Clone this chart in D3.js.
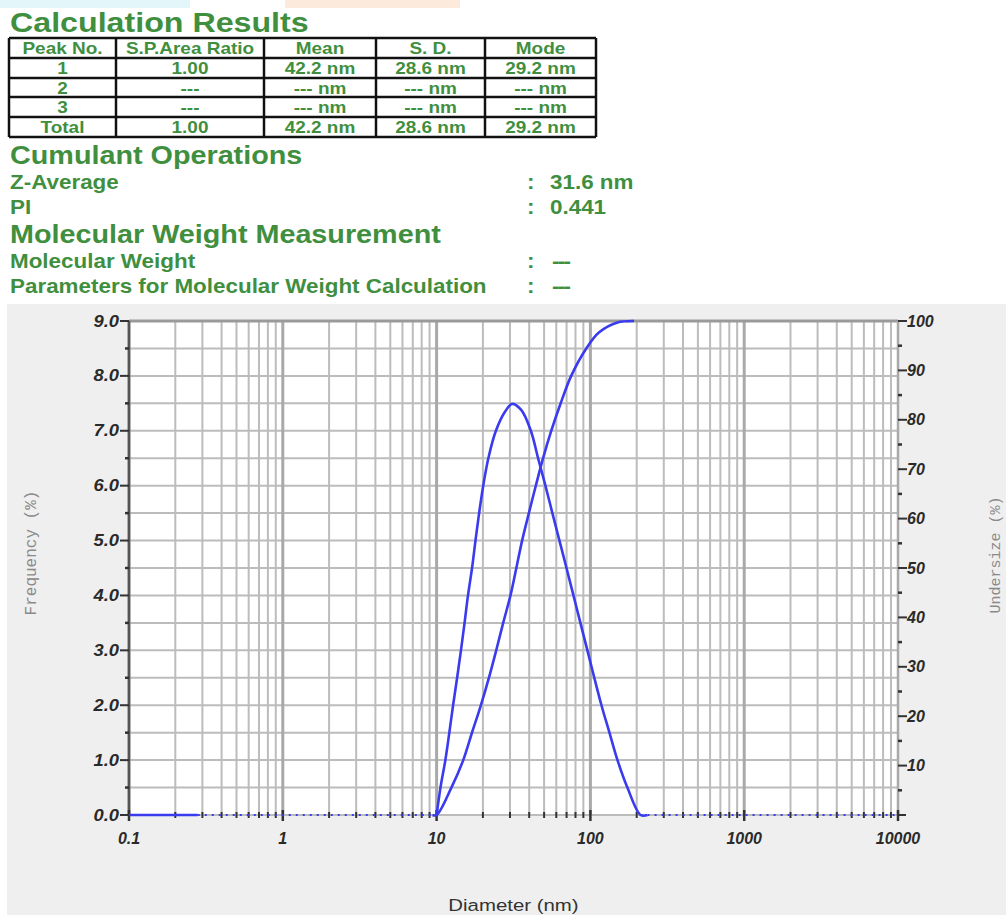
<!DOCTYPE html>
<html>
<head>
<meta charset="utf-8">
<script src="https://cdn.jsdelivr.net/npm/d3@7"></script>
<style>
  html, body { margin: 0; padding: 0; background: #ffffff; }
  svg { display: block; }
</style>
</head>
<body>
<svg id="chart" width="1006" height="915"></svg>
<script>
// ---- Report values ----
const tableHeader = ["Peak No.", "S.P.Area Ratio", "Mean", "S. D.", "Mode"];
const peakNo     = ["1", "2", "3", "Total"];
const areaRatio  = ["1.00", "---", "---", "1.00"];
const meanNm     = ["42.2 nm", "--- nm", "--- nm", "42.2 nm"];
const sdNm       = ["28.6 nm", "--- nm", "--- nm", "28.6 nm"];
const modeNm     = ["29.2 nm", "--- nm", "--- nm", "29.2 nm"];

const cumulantLabels = ["Z-Average", "PI"];
const cumulantValues = ["31.6 nm", "0.441"];
const mwLabels = ["Molecular Weight", "Parameters for Molecular Weight Calculation"];
const mwValues = ["---", "---"];

// ---- Size distribution (diameter in nm) ----
const freqDiameter = [10, 10.6, 11.4, 12.1, 12.8, 13.6, 14.4, 15.2, 16.0, 17.0, 17.9, 18.9, 20.1, 21.7, 24.3, 27.9, 31.0, 35.5, 41.0, 45.7, 51.0, 56.6, 62.9, 69.9, 77.6, 86.1, 95.6, 106, 118, 133, 150, 174, 212, 235];
const freqValue    = [0, 0.5, 1.0, 1.5, 2.0, 2.5, 3.0, 3.5, 4.0, 4.5, 5.0, 5.5, 6.0, 6.5, 7.0, 7.35, 7.49, 7.38, 7.0, 6.5, 6.0, 5.5, 5.0, 4.5, 4.0, 3.5, 3.0, 2.5, 2.0, 1.5, 1.0, 0.5, 0, 0];

const cumDiameter = [9.4, 10, 12.5, 14.9, 17.0, 19.4, 21.9, 24.4, 27.1, 30.2, 33.0, 36.0, 39.8, 44.2, 49.2, 55.7, 64.0, 75.0, 93.8, 114, 150, 192];
const cumValue    = [0, 0, 5.6, 11.1, 16.7, 22.2, 27.8, 33.3, 38.9, 44.4, 50.0, 55.6, 61.1, 66.7, 72.2, 77.8, 83.3, 88.9, 94.4, 97.7, 99.7, 100];

// zero baseline: solid part, then dotted stretches outside the distribution
const baselineSolid  = [0.1, 0.28];
const baselineDotted = [[0.28, 10], [212, 10000]];

const xTickValues = [0.1, 1, 10, 100, 1000, 10000];
const xTickLabels = ["0.1", "1", "10", "100", "1000", "10000"];
const leftTickValues = [0, 1, 2, 3, 4, 5, 6, 7, 8, 9];
const rightTickValues = [10, 20, 30, 40, 50, 60, 70, 80, 90, 100];

// ---- Drawing ----
const svg = d3.select("#chart");
const GREEN = "#3f8f3f";
const BLUE = "#3a3aee";
const SX = 1.15;           // report font is slightly wide

function txt(parent, px, py, s, o = {}) {
  return parent.append("text")
    .attr("transform", `translate(${px},${py}) scale(${o.sx || 1},1)`)
    .attr("font-family", o.family || "Liberation Sans, Arial, sans-serif")
    .attr("font-size", o.size || 16)
    .attr("font-weight", o.weight || "normal")
    .attr("font-style", o.style || "normal")
    .attr("text-anchor", o.anchor || "start")
    .attr("fill", o.fill || "#000")
    .text(s);
}

// faint colour bands along the very top edge
svg.append("rect").attr("x", 0).attr("y", 0).attr("width", 190).attr("height", 8).attr("fill", "#e3f7fb");
svg.append("rect").attr("x", 285).attr("y", 0).attr("width", 175).attr("height", 8).attr("fill", "#fcebdc");

// Title
txt(svg, 10, 32, "Calculation Results", { size: 28, weight: "bold", fill: GREEN, sx: SX });

// Results table
const colEdges = [9, 116, 264, 376, 485, 596];
const rowEdges = [38, 58, 78, 97, 117, 137];
const table = svg.append("g");
const rows = [tableHeader].concat(peakNo.map((p, i) => [p, areaRatio[i], meanNm[i], sdNm[i], modeNm[i]]));
rows.forEach((r, ri) => {
  const mid = (rowEdges[ri] + rowEdges[ri + 1]) / 2;
  r.forEach((c, ci) => {
    const cx = (colEdges[ci] + colEdges[ci + 1]) / 2;
    txt(table, cx, mid + 6, c, { size: 16.5, weight: "bold", fill: GREEN, anchor: "middle", sx: SX });
  });
});
rowEdges.forEach(yy => table.append("line")
  .attr("x1", colEdges[0]).attr("x2", colEdges[colEdges.length - 1])
  .attr("y1", yy).attr("y2", yy).attr("stroke", "#111").attr("stroke-width", 2.5));
colEdges.forEach(xx => table.append("line")
  .attr("x1", xx).attr("x2", xx)
  .attr("y1", rowEdges[0]).attr("y2", rowEdges[rowEdges.length - 1]).attr("stroke", "#111").attr("stroke-width", 2.5));

// Cumulant operations
txt(svg, 10, 164, "Cumulant Operations", { size: 25, weight: "bold", fill: GREEN, sx: SX });
cumulantLabels.forEach((l, i) => {
  const yy = 189 + i * 25;
  txt(svg, 10, yy, l, { size: 19.5, weight: "bold", fill: GREEN, sx: SX });
  txt(svg, 527, yy, ":", { size: 19.5, weight: "bold", fill: GREEN, sx: SX });
  txt(svg, 550, yy, cumulantValues[i], { size: 19.5, weight: "bold", fill: GREEN, sx: SX });
});

// Molecular weight
txt(svg, 10, 243, "Molecular Weight Measurement", { size: 25, weight: "bold", fill: GREEN, sx: SX });
mwLabels.forEach((l, i) => {
  const yy = 268 + i * 25;
  txt(svg, 10, yy, l, { size: 19.5, weight: "bold", fill: GREEN, sx: SX });
  txt(svg, 527, yy, ":", { size: 19.5, weight: "bold", fill: GREEN, sx: SX });
  txt(svg, 552, yy, mwValues[i], { size: 19.5, weight: "bold", fill: GREEN, sx: SX }).attr("letter-spacing", -1.5);
});

// ---- Graph panel ----
svg.append("rect").attr("x", 7).attr("y", 304).attr("width", 999).attr("height", 611).attr("fill", "#efefef");

const pLeft = 129, pRight = 898, pTop = 321, pBottom = 815;
const x = d3.scaleLog().domain([0.1, 10000]).range([pLeft, pRight]);
const yL = d3.scaleLinear().domain([0, 9]).range([pBottom, pTop]);
const yR = d3.scaleLinear().domain([0, 100]).range([pBottom, pTop]);

svg.append("rect").attr("x", pLeft).attr("y", pTop).attr("width", pRight - pLeft).attr("height", pBottom - pTop).attr("fill", "#fff");

const grid = svg.append("g");
// horizontal grid every 0.5 %
d3.range(0, 9.01, 0.5).forEach(v => grid.append("line")
  .attr("x1", pLeft).attr("x2", pRight).attr("y1", yL(v)).attr("y2", yL(v))
  .attr("stroke", "#bcbcbc").attr("stroke-width", 2));
// vertical log grid
const decades = [0.1, 1, 10, 100, 1000];
decades.forEach(dec => {
  d3.range(1, 10).forEach(k => {
    const v = dec * k;
    const major = k === 1;
    grid.append("line")
      .attr("x1", x(v)).attr("x2", x(v)).attr("y1", pTop).attr("y2", pBottom)
      .attr("stroke", major ? "#a9a9a9" : "#bcbcbc").attr("stroke-width", major ? 3 : 2);
  });
});
// frame
grid.append("line").attr("x1", pLeft).attr("x2", pRight).attr("y1", pTop).attr("y2", pTop).attr("stroke", "#9a9a9a").attr("stroke-width", 3);
grid.append("line").attr("x1", pRight).attr("x2", pRight).attr("y1", pTop).attr("y2", pBottom).attr("stroke", "#a9a9a9").attr("stroke-width", 2.5);
grid.append("line").attr("x1", pLeft).attr("x2", pLeft).attr("y1", pTop).attr("y2", pBottom).attr("stroke", "#555").attr("stroke-width", 2.5);

// left axis ticks + labels
const axL = svg.append("g");
leftTickValues.forEach(v => {
  axL.append("line").attr("x1", pLeft - 9).attr("x2", pLeft).attr("y1", yL(v)).attr("y2", yL(v)).attr("stroke", "#333").attr("stroke-width", 2);
  txt(axL, pLeft - 10, yL(v) + 5.5, v.toFixed(1), { size: 16, weight: "bold", style: "italic", fill: "#2a2a2a", anchor: "end", sx: 1.15 });
});
d3.range(0.5, 9, 1).forEach(v => axL.append("line")
  .attr("x1", pLeft - 4).attr("x2", pLeft).attr("y1", yL(v)).attr("y2", yL(v)).attr("stroke", "#333").attr("stroke-width", 2.5));

// right axis ticks + labels
const axR = svg.append("g");
rightTickValues.forEach(v => {
  axR.append("line").attr("x1", pRight).attr("x2", pRight + 9).attr("y1", yR(v)).attr("y2", yR(v)).attr("stroke", "#333").attr("stroke-width", 2);
  txt(axR, pRight + 9, yR(v) + 5.5, String(v), { size: 16, weight: "bold", style: "italic", fill: "#2a2a2a" });
});
d3.range(5, 100, 10).forEach(v => axR.append("line")
  .attr("x1", pRight).attr("x2", pRight + 4).attr("y1", yR(v)).attr("y2", yR(v)).attr("stroke", "#333").attr("stroke-width", 2.5));
axR.append("line").attr("x1", pRight).attr("x2", pRight + 8).attr("y1", pBottom).attr("y2", pBottom).attr("stroke", "#333").attr("stroke-width", 2);

// bottom axis ticks + labels
const axB = svg.append("g");
decades.forEach(dec => d3.range(2, 10).forEach(k => axB.append("line")
  .attr("x1", x(dec * k)).attr("x2", x(dec * k)).attr("y1", pBottom - 3).attr("y2", pBottom + 3)
  .attr("stroke", "#333").attr("stroke-width", 2)));
xTickValues.forEach((v, i) => {
  axB.append("line").attr("x1", x(v)).attr("x2", x(v)).attr("y1", pBottom - 5).attr("y2", pBottom + 6).attr("stroke", "#333").attr("stroke-width", 2.5);
  txt(axB, x(v), pBottom + 29, xTickLabels[i], { size: 16, weight: "bold", style: "italic", fill: "#2a2a2a", anchor: "middle" });
});

// zero baseline
const baseline = svg.append("g");
baseline.append("line").attr("x1", x(baselineSolid[0])).attr("x2", x(baselineSolid[1]))
  .attr("y1", yL(0)).attr("y2", yL(0)).attr("stroke", BLUE).attr("stroke-width", 2.5);
baselineDotted.forEach(([a, b]) => baseline.append("line")
  .attr("x1", x(a)).attr("x2", x(b)).attr("y1", yL(0)).attr("y2", yL(0))
  .attr("stroke", BLUE).attr("stroke-width", 2).attr("stroke-dasharray", "2,5"));

// frequency curve (left axis)
const freqLine = d3.line().x(d => x(d[0])).y(d => yL(d[1])).curve(d3.curveCatmullRom.alpha(0.5));
svg.append("path").datum(freqDiameter.map((d, i) => [d, freqValue[i]]))
  .attr("d", freqLine).attr("fill", "none").attr("stroke", BLUE).attr("stroke-width", 2.6);

// undersize curve (right axis)
const cumLine = d3.line().x(d => x(d[0])).y(d => yR(d[1])).curve(d3.curveCatmullRom.alpha(0.5));
svg.append("path").datum(cumDiameter.map((d, i) => [d, cumValue[i]]))
  .attr("d", cumLine).attr("fill", "none").attr("stroke", BLUE).attr("stroke-width", 2.6);

// axis titles
const mono = "Liberation Mono, DejaVu Sans Mono, monospace";
svg.append("text").attr("transform", `translate(36,553) rotate(-90)`)
  .attr("text-anchor", "middle").attr("font-family", mono).attr("font-size", 16)
  .attr("fill", "#8a8a8a").text("Frequency (%)");
svg.append("text").attr("transform", `translate(1000,555) rotate(-90)`)
  .attr("text-anchor", "middle").attr("font-family", mono).attr("font-size", 15)
  .attr("fill", "#8a8a8a").text("Undersize (%)");
txt(svg, (pLeft + pRight) / 2, 911, "Diameter (nm)", { size: 17, fill: "#333", anchor: "middle", sx: 1.2 });
</script>
</body>
</html>
